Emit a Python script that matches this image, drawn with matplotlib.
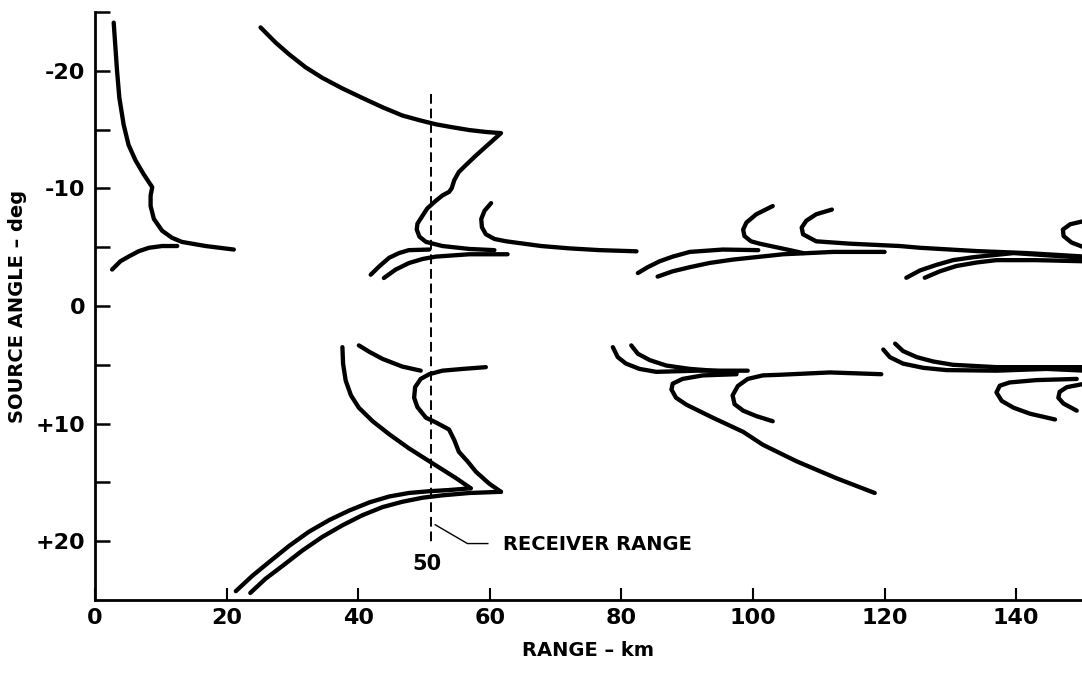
"""
Source angle vs. range for rays reaching the receiver (traced from a scanned figure).
"""

import matplotlib.pyplot as plt
from matplotlib.ticker import FixedLocator

# ─────────────────────────────────────────────
# DATA  (range km, source angle deg)
# ─────────────────────────────────────────────

# first convergence zone (near the source)
near_upper_x = [2.84, 3.35, 3.7, 4.36, 5.1, 6.14, 7.4, 8.7, 8.45, 8.45, 8.95, 10.2, 11.7, 13.2, 16.8, 21.1]
near_upper_y = [-24.1, -20.0, -17.7, -15.4, -13.7, -12.4, -11.2, -10.1, -9.4, -8.5, -7.4, -6.4, -5.8, -5.45, -5.1, -4.8]
near_lower_x = [2.6, 3.85, 5.1, 6.65, 8.2, 10.2, 12.5]
near_lower_y = [-3.1, -3.8, -4.2, -4.66, -4.95, -5.1, -5.1]

# second zone, upward rays
z2_top_x = [25.16, 27.45, 29.5, 32.0, 34.55, 37.6, 40.6, 43.7, 46.7, 49.3, 51.8, 54.3, 56.9, 59.4, 61.7,
            59.9, 57.9, 56.4, 55.3, 54.6, 54.2, 53.8, 52.8, 51.8, 50.5, 49.8, 49.0, 48.9, 49.3, 50.3,
            52.8, 56.9, 60.7]
z2_top_y = [-23.69, -22.4, -21.4, -20.3, -19.4, -18.5, -17.7, -16.9, -16.2, -15.8, -15.45, -15.2, -14.96, -14.8, -14.7,
            -13.8, -12.8, -12.0, -11.4, -10.7, -10.0, -9.7, -9.4, -8.95, -8.3, -7.7, -7.0, -6.5, -5.9, -5.45,
            -5.1, -4.85, -4.75]
z2_pair1_x = [41.9, 43.2, 44.7, 46.2, 47.7, 50.8]
z2_pair1_y = [-2.66, -3.37, -4.1, -4.5, -4.75, -4.8]
z2_pair2_x = [43.9, 45.7, 47.7, 49.8, 51.8, 56.9, 62.7]
z2_pair2_y = [-2.38, -3.1, -3.65, -4.0, -4.2, -4.4, -4.4]
z2_hook_x = [60.2, 59.2, 58.7, 58.8, 59.4, 60.7, 62.5, 67.8, 72.1, 76.7, 82.3]
z2_hook_y = [-8.75, -8.1, -7.4, -6.7, -6.1, -5.7, -5.5, -5.1, -4.9, -4.75, -4.65]

# third zone, upward rays
z3_pair1_x = [82.5, 84.0, 85.8, 87.8, 90.4, 95.4, 100.8]
z3_pair1_y = [-2.8, -3.3, -3.8, -4.2, -4.6, -4.8, -4.75]
z3_pair2_x = [85.5, 87.8, 90.4, 93.4, 97.0, 104.6, 112.2, 120.0]
z3_pair2_y = [-2.5, -2.95, -3.3, -3.66, -3.95, -4.4, -4.6, -4.6]
z3_hook1_x = [103.0, 100.5, 99.0, 98.5, 98.7, 99.7, 101.0, 105.6, 107.6]
z3_hook1_y = [-8.5, -7.8, -7.1, -6.5, -5.95, -5.5, -5.3, -4.75, -4.5]
z3_hook2_x = [112.0, 109.6, 108.1, 107.4, 107.6, 109.6, 114.7, 122.3, 125.4, 134.0, 141.6, 150.5]
z3_hook2_y = [-8.2, -7.8, -7.25, -6.67, -6.1, -5.5, -5.3, -5.1, -4.95, -4.67, -4.5, -4.2]

# fourth zone, upward rays
z4_pair1_x = [123.3, 125.4, 127.9, 130.4, 133.5, 139.6, 145.0, 150.5]
z4_pair1_y = [-2.4, -3.03, -3.5, -3.9, -4.15, -4.5, -4.3, -4.1]
z4_pair2_x = [126.1, 128.4, 130.9, 134.0, 137.0, 143.0, 150.5]
z4_pair2_y = [-2.4, -2.95, -3.4, -3.7, -3.9, -3.9, -3.8]
z4_hook_x = [150.5, 148.2, 147.1, 147.2, 148.4, 150.5]
z4_hook_y = [-7.25, -6.95, -6.5, -5.95, -5.4, -4.95]

# second zone, downward rays
z2_dn_left_x = [37.6, 37.7, 38.1, 38.9, 40.1, 42.2, 44.7, 47.7, 50.8, 54.9, 57.1]
z2_dn_left_y = [3.5, 4.9, 6.35, 7.6, 8.65, 9.8, 10.9, 12.1, 13.2, 14.65, 15.5]
z2_dn_arc1_x = [21.4, 23.9, 26.4, 29.5, 32.5, 35.6, 38.6, 41.7, 44.7, 47.7, 50.8, 53.8, 57.1]
z2_dn_arc1_y = [24.25, 22.95, 21.8, 20.4, 19.2, 18.2, 17.4, 16.7, 16.2, 15.9, 15.75, 15.65, 15.5]
z2_dn_arc2_x = [23.6, 25.9, 28.5, 31.5, 34.5, 37.6, 40.6, 43.7, 46.7, 49.8, 52.8, 56.9, 61.7]
z2_dn_arc2_y = [24.4, 23.2, 22.1, 20.8, 19.65, 18.65, 17.8, 17.1, 16.65, 16.3, 16.1, 15.9, 15.8]
z2_dn_zig_x = [59.4, 55.9, 52.8, 50.8, 49.5, 48.65, 48.5, 49.0, 50.3, 51.8, 53.8, 54.6, 55.3, 56.6, 57.9, 59.9, 61.7]
z2_dn_zig_y = [5.2, 5.35, 5.5, 5.8, 6.2, 6.9, 7.8, 8.6, 9.5, 9.9, 10.5, 11.4, 12.4, 13.2, 14.1, 15.1, 15.8]
z2_dn_short_x = [40.1, 41.7, 43.7, 46.7, 49.5]
z2_dn_short_y = [3.35, 3.9, 4.5, 5.15, 5.5]

# third zone, downward rays
z3_dn_pair1_x = [78.7, 79.45, 80.7, 82.75, 85.3, 91.4, 99.2]
z3_dn_pair1_y = [3.5, 4.35, 4.9, 5.35, 5.6, 5.5, 5.5]
z3_dn_pair2_x = [81.5, 82.5, 84.3, 86.8, 90.4, 97.5]
z3_dn_pair2_y = [3.35, 4.06, 4.6, 5.06, 5.35, 5.65]
z3_dn_long_x = [97.5, 92.4, 89.3, 87.8, 87.6, 88.3, 89.9, 93.9, 98.5, 101.5, 106.6, 112.7, 118.5]
z3_dn_long_y = [5.8, 5.9, 6.2, 6.6, 7.1, 7.8, 8.4, 9.5, 10.7, 11.8, 13.2, 14.65, 15.9]
z3_dn_hook_x = [103.0, 100.5, 98.5, 97.2, 96.9, 97.7, 99.2, 101.5, 104.0, 111.7, 119.5]
z3_dn_hook_y = [9.8, 9.36, 8.9, 8.35, 7.6, 6.8, 6.2, 5.9, 5.85, 5.65, 5.8]

# fourth zone, downward rays
z4_dn_pair1_x = [119.8, 120.8, 122.8, 125.9, 129.4, 137.0, 144.6, 150.5]
z4_dn_pair1_y = [3.7, 4.35, 4.9, 5.26, 5.45, 5.5, 5.35, 5.5]
z4_dn_pair2_x = [121.6, 122.8, 124.9, 127.4, 130.4, 137.0, 150.5]
z4_dn_pair2_y = [3.2, 3.83, 4.35, 4.72, 5.0, 5.2, 5.2]
z4_dn_hook1_x = [145.9, 142.1, 139.6, 137.8, 137.0, 137.5, 139.0, 143.1, 149.2]
z4_dn_hook1_y = [9.65, 9.16, 8.65, 8.07, 7.35, 6.78, 6.5, 6.3, 6.2]
z4_dn_hook2_x = [149.2, 147.2, 146.4, 146.6, 147.7, 150.5]
z4_dn_hook2_y = [8.9, 8.3, 7.8, 7.3, 6.9, 6.6]

RECEIVER_KM = 51
X_TICKS = [0, 20, 40, 60, 80, 100, 120, 140]
Y_TICKS = [-20, -10, 0, 10, 20]
Y_TICK_LABELS = ["-20", "-10", "0", "+10", "+20"]
Y_MINOR = [-25, -15, -5, 5, 15]

CURVES = [
    (near_upper_x, near_upper_y), (near_lower_x, near_lower_y),
    (z2_top_x, z2_top_y), (z2_pair1_x, z2_pair1_y), (z2_pair2_x, z2_pair2_y), (z2_hook_x, z2_hook_y),
    (z3_pair1_x, z3_pair1_y), (z3_pair2_x, z3_pair2_y), (z3_hook1_x, z3_hook1_y), (z3_hook2_x, z3_hook2_y),
    (z4_pair1_x, z4_pair1_y), (z4_pair2_x, z4_pair2_y), (z4_hook_x, z4_hook_y),
    (z2_dn_left_x, z2_dn_left_y), (z2_dn_arc1_x, z2_dn_arc1_y), (z2_dn_arc2_x, z2_dn_arc2_y),
    (z2_dn_zig_x, z2_dn_zig_y), (z2_dn_short_x, z2_dn_short_y),
    (z3_dn_pair1_x, z3_dn_pair1_y), (z3_dn_pair2_x, z3_dn_pair2_y),
    (z3_dn_long_x, z3_dn_long_y), (z3_dn_hook_x, z3_dn_hook_y),
    (z4_dn_pair1_x, z4_dn_pair1_y), (z4_dn_pair2_x, z4_dn_pair2_y),
    (z4_dn_hook1_x, z4_dn_hook1_y), (z4_dn_hook2_x, z4_dn_hook2_y),
]

# ─────────────────────────────────────────────
# PLOT
# ─────────────────────────────────────────────

plt.rcParams["font.family"] = ["DejaVu Sans"]

fig = plt.figure(figsize=(10.82, 6.73), dpi=100)
ax = fig.add_axes([95 / 1082, 1 - 600 / 673, 987 / 1082, 588 / 673])

for cx, cy in CURVES:
    ax.plot(cx, cy, color="black", lw=3.1, solid_capstyle="round", solid_joinstyle="round", clip_on=False)

# receiver range marker
ax.plot([RECEIVER_KM, RECEIVER_KM], [-18.0, 20.3], color="black", lw=1.4, ls=(0, (5, 2.5)))
ax.text(RECEIVER_KM - 0.5, 21.9, "50", ha="center", va="center", fontsize=15, fontweight="bold")
ax.plot([51.7, 56.6, 59.7], [18.6, 20.2, 20.2], color="black", lw=1.0)
ax.text(62.0, 20.3, "RECEIVER RANGE", ha="left", va="center", fontsize=14, fontweight="bold")

ax.set_xlim(0, 150)
ax.set_ylim(25, -25)

ax.spines["top"].set_visible(False)
ax.spines["right"].set_visible(False)
ax.spines["left"].set_linewidth(2.0)
ax.spines["bottom"].set_linewidth(2.0)

ax.set_xticks(X_TICKS)
ax.set_xticklabels([str(t) for t in X_TICKS])
ax.set_yticks(Y_TICKS)
ax.set_yticklabels(Y_TICK_LABELS)
ax.yaxis.set_minor_locator(FixedLocator(Y_MINOR))
ax.tick_params(axis="x", direction="in", length=9, width=1.5, pad=6, labelsize=16)
ax.tick_params(axis="y", which="both", direction="in", length=11, width=1.8, pad=7, labelsize=16)
for lab in ax.get_xticklabels() + ax.get_yticklabels():
    lab.set_fontweight("bold")

ax.set_xlabel("RANGE \u2013 km", fontsize=14, fontweight="bold", labelpad=9)
ax.set_ylabel("SOURCE ANGLE \u2013 deg", fontsize=14, fontweight="bold", labelpad=6)

plt.savefig("out.png", dpi=100)
plt.close()
